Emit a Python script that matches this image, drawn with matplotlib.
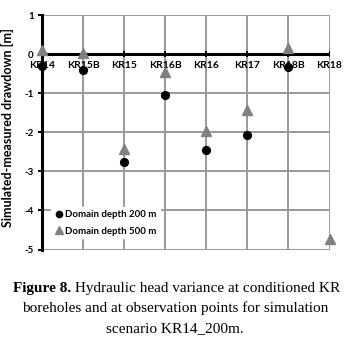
import matplotlib
matplotlib.use("Agg")
import matplotlib.pyplot as plt
import numpy as np

categories = ["KR14", "KR15B", "KR15", "KR16B", "KR16", "KR17", "KR18B", "KR18"]
depth_200 = [-0.31, -0.42, -2.77, -1.05, -2.46, -2.06, -0.33, np.nan]
depth_500 = [0.10, 0.04, -2.44, -0.46, -1.96, -1.43, 0.15, -4.72]
yticks = [1, 0, -1, -2, -3, -4, -5]
caption_bold = "Figure 8."
caption_rest = " Hydraulic head variance at conditioned KR"
caption_line2 = "boreholes and at observation points for simulation"
caption_line3 = "scenario KR14_200m."

W, H = 348, 341
fig = plt.figure(figsize=(W / 100, H / 100), dpi=100)
ax = fig.add_axes([42/W, 1 - 249.5/H, (329.5-42)/W, (249.5-15)/H])

x = np.arange(len(categories))
ax.set_xlim(0, len(categories) - 1)
ax.set_ylim(-5, 1)

grid_c = "#999999"
for xi in x[1:]:
    ax.axvline(xi, color=grid_c, lw=1.4, zorder=1.5)
for yv in yticks:
    ax.axhline(yv, color=grid_c, lw=1.4, zorder=1.5)
ax.axhline(0, color="black", lw=2.2, zorder=2)

for s in ["top", "right", "bottom"]:
    ax.spines[s].set_visible(False)
ax.spines["left"].set_linewidth(2.2)
ax.spines["left"].set_zorder(3)

ax.set_yticks(yticks)
ax.set_yticklabels([str(v) for v in yticks], fontsize=7, fontweight="bold", family="Lato")
ax.tick_params(axis="y", length=3, width=1.4, pad=3)
ax.set_xticks([])
for xi, lab in zip(x, categories):
    ax.text(xi, -0.28, lab, ha="center", va="center", fontsize=7.5, fontweight="bold",
            family="Lato", zorder=4)
    ax.plot([xi, xi], [-0.05, 0.05], color="black", lw=1.4, zorder=3)

ax.plot(x, depth_200, "o", color="black", ms=5.6, zorder=5, clip_on=False,
        label="Domain depth 200 m")
ax.plot(x, depth_500, "^", color="#808080", ms=6.6, zorder=5, clip_on=False,
        label="Domain depth 500 m")

leg = ax.legend(loc="upper left", bbox_to_anchor=(0.031, 0.181), frameon=True,
                prop={"family": "Lato", "weight": "bold", "size": 6.9},
                handlelength=1.0, handletextpad=0.2, borderpad=0.3,
                labelspacing=0.8, markerscale=0.8, borderaxespad=0)
leg.get_frame().set_edgecolor("white")
leg.get_frame().set_facecolor("white")
leg.get_frame().set_alpha(1)
leg.get_frame().set_boxstyle("square", pad=0)
leg.set_zorder(6)

ax.set_ylabel("Simulated-measured drawdown [m]", fontsize=9, fontweight="bold",
              family="Lato")
ax.yaxis.set_label_coords((14 - 42) / 287.5, (249.5 - 128) / 234.5)

# caption
fs = 11
xc = 175 / W
t1 = fig.text(xc, 1 - 292/H, caption_bold + caption_rest, ha="center", va="baseline",
              fontsize=fs, family="Liberation Serif", alpha=0)
fig.canvas.draw()
bb = t1.get_window_extent()
tb = fig.text(bb.x0 / W, 1 - 292/H, caption_bold, ha="left", va="baseline",
              fontsize=fs, family="Liberation Serif", fontweight="bold")
fig.canvas.draw()
bb2 = tb.get_window_extent()
fig.text(bb2.x1 / W, 1 - 292/H, caption_rest, ha="left", va="baseline",
         fontsize=fs, family="Liberation Serif")
fig.text(xc, 1 - 312/H, caption_line2, ha="center", va="baseline",
         fontsize=fs, family="Liberation Serif")
fig.text(xc, 1 - 332/H, caption_line3, ha="center", va="baseline",
         fontsize=fs, family="Liberation Serif")

fig.savefig("out.png", dpi=100)
